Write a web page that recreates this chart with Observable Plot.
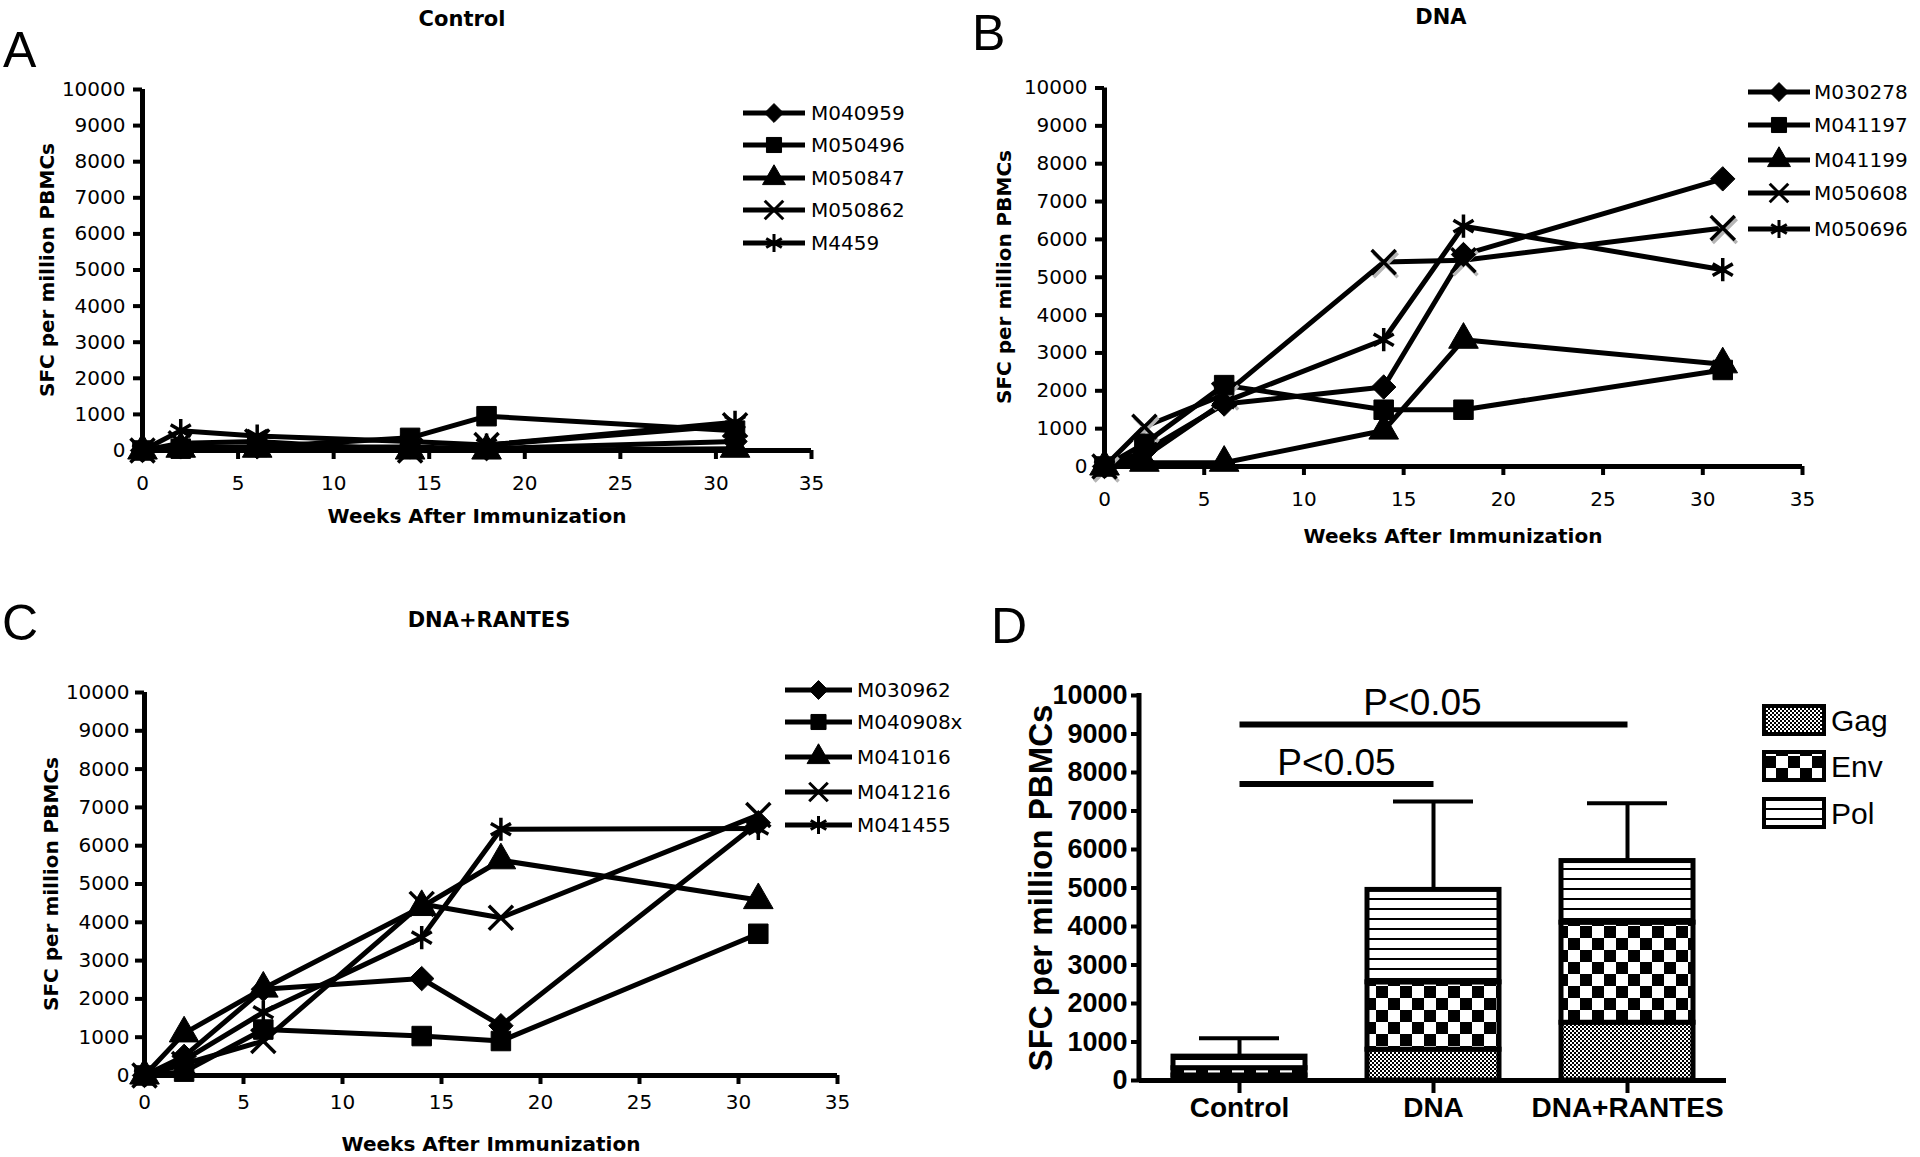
<!DOCTYPE html>
<html>
<head>
<meta charset="utf-8">
<script src="https://cdn.jsdelivr.net/npm/d3@7"></script>
<script src="https://cdn.jsdelivr.net/npm/@observablehq/plot@0.6"></script>
<style>
html, body { margin: 0; padding: 0; background: #fff; }
#fig { position: relative; width: 1920px; height: 1157px; overflow: hidden; background: #fff; }
#fig svg { position: absolute; }
</style>
</head>
<body>
<div id="fig"></div>
<script>
// ---------------- data ----------------
const weeks = [0, 2, 6, 14, 18, 31];
const xTicks = [0, 5, 10, 15, 20, 25, 30, 35];
const yTicks = [0, 1000, 2000, 3000, 4000, 5000, 6000, 7000, 8000, 9000, 10000];
const symbolNames = ["diamond2", "square", "triangle", "times", "asterisk"];

// Panel A: Control
const controlIds = ["M040959", "M050496", "M050847", "M050862", "M4459"];
const controlM040959 = [0, 100, 100, 100, 50, 250];
const controlM050496 = [0, 50, 100, 350, 950, 550];
const controlM050847 = [0, 50, 50, 0, 0, 50];
const controlM050862 = [0, 200, 250, 0, 150, 700];
const controlM4459   = [0, 550, 400, 250, 150, 780];

// Panel B: DNA
const dnaIds = ["M030278", "M041197", "M041199", "M050608", "M050696"];
const dnaM030278 = [0, 400, 1650, 2100, 5600, 7600];
const dnaM041197 = [0, 600, 2150, 1500, 1500, 2550];
const dnaM041199 = [0, 100, 100, 950, 3350, 2700];
const dnaM050608 = [0, 1050, 1900, 5400, 5450, 6300];
const dnaM050696 = [0, 250, 1700, 3350, 6350, 5200];

// Panel C: DNA+RANTES
const rantesIds = ["M030962", "M040908x", "M041016", "M041216", "M041455"];
const rantesM030962  = [0, 500, 2250, 2530, 1300, 6600];
const rantesM040908x = [0, 100, 1200, 1030, 900, 3700];
const rantesM041016  = [0, 1100, 2270, 4400, 5620, 4580];
const rantesM041216  = [0, 300, 900, 4480, 4120, 6800];
const rantesM041455  = [0, 400, 1650, 3600, 6430, 6450];

// Panel D: stacked bars
const dGroups = ["Control", "DNA", "DNA+RANTES"];
const dComponents = ["Gag", "Env", "Pol"];
const dGag = [130, 800, 1500];
const dEnv = [190, 1750, 2600];
const dPol = [300, 2400, 1600];
const dErrorTop = [1100, 7250, 7200];
const dSigFrom = ["Control", "Control"];
const dSigTo = ["DNA", "DNA+RANTES"];
const dSigY = [7700, 9250];
const dSigLabel = ["P<0.05", "P<0.05"];

// ---------------- helpers ----------------
const fig = document.getElementById("fig");

function linePanel(cfg) {
  const {ids, series, left, top, width, height, fx0, fx1, fy0, fy1, shadow, xPad, yPad} = cfg;
  const data = [];
  ids.forEach((id, k) => series[k].forEach((v, i) => data.push({id, week: weeks[i], value: v})));
  const filledIds = ids.slice(0, 3);
  const filled = data.filter(d => filledIds.includes(d.id));
  const stroked = data.filter(d => !filledIds.includes(d.id));
  const marks = [
    Plot.line(data, {x: "week", y: "value", z: "id", stroke: "black", strokeWidth: 5}),
  ];
  if (shadow) {
    marks.push(Plot.dot(data.filter(d => d.id === ids[3]), {x: "week", y: "value", symbol: "id", r: 11, fill: "none", stroke: "#b5b5b5", strokeWidth: 3.5, dx: 2, dy: 3}));
  }
  marks.push(
    Plot.dot(filled, {x: "week", y: "value", symbol: "id", r: 11, fill: "black", stroke: "black", strokeWidth: 1}),
    Plot.dot(stroked, {x: "week", y: "value", symbol: "id", r: 11, fill: "none", stroke: "black", strokeWidth: 3.5}),
    Plot.ruleY([0], {strokeWidth: 5}),
    Plot.ruleX([0], {strokeWidth: 5}),
    Plot.axisX({ticks: xTicks, tickFormat: d => String(d), tickSize: 9, tickPadding: xPad, strokeWidth: 4, label: null, fontSize: 20}),
    Plot.axisY({ticks: yTicks, tickFormat: d => String(d), tickSize: 9, tickPadding: yPad, strokeWidth: 4, label: null, fontSize: 20})
  );
  const svg = Plot.plot({
    width, height,
    marginLeft: fx0 - left, marginRight: left + width - fx1,
    marginTop: fy1 - top, marginBottom: top + height - fy0,
    x: {domain: [0, 35]},
    y: {domain: [0, 10000]},
    symbol: {domain: ids, range: symbolNames},
    style: {background: "transparent", color: "black", fontFamily: "DejaVu Sans, sans-serif", fontSize: "20px", overflow: "visible"},
    marks
  });
  svg.style.left = left + "px";
  svg.style.top = top + "px";
  fig.appendChild(svg);
}

// ---------------- panels A, B, C ----------------
linePanel({ids: controlIds, series: [controlM040959, controlM050496, controlM050847, controlM050862, controlM4459],
  left: 0, top: 60, width: 840, height: 480, fx0: 142, fx1: 811, fy0: 450, fy1: 89, xPad: 16, yPad: 8});
linePanel({ids: dnaIds, series: [dnaM030278, dnaM041197, dnaM041199, dnaM050608, dnaM050696],
  left: 960, top: 50, width: 900, height: 520, fx0: 1104, fx1: 1802, fy0: 466, fy1: 87.5, shadow: true, xPad: 16, yPad: 8});
linePanel({ids: rantesIds, series: [rantesM030962, rantesM040908x, rantesM041016, rantesM041216, rantesM041455],
  left: 0, top: 650, width: 860, height: 480, fx0: 144, fx1: 837, fy0: 1075, fy1: 692, xPad: 10, yPad: 6});

// ---------------- panel D ----------------
const barData = [];
dGroups.forEach((g, i) => {
  barData.push({group: g, component: "Gag", value: dGag[i]});
  barData.push({group: g, component: "Env", value: dEnv[i]});
  barData.push({group: g, component: "Pol", value: dPol[i]});
});
const errData = dGroups.map((g, i) => ({group: g, total: dGag[i] + dEnv[i] + dPol[i], top: dErrorTop[i]}));
const sigData = dSigFrom.map((f, i) => ({from: f, to: dSigTo[i], y: dSigY[i], label: dSigLabel[i]}));

const dLeft = 980, dTop = 590, dW = 940, dH = 567;
const dML = 159, dMR = 194, dMT = 105, dMB = 77;
const dSvg = Plot.plot({
  width: dW, height: dH,
  marginLeft: dML, marginRight: dMR, marginTop: dMT, marginBottom: dMB,
  x: {domain: dGroups, paddingInner: 0.32, paddingOuter: 0.17, align: 0.5},
  y: {domain: [0, 10000]},
  color: {type: "ordinal", domain: dComponents, range: ["url(#pat-gag)", "url(#pat-env)", "url(#pat-pol)"]},
  style: {background: "transparent", color: "black", fontFamily: "Liberation Sans, Arial, sans-serif", fontSize: "28px", overflow: "visible"},
  marks: [
    Plot.ruleX(errData, {x: "group", y1: "total", y2: "top", strokeWidth: 4}),
    Plot.tickY(errData, {x: "group", y: "top", strokeWidth: 4, insetLeft: 26, insetRight: 26}),
    Plot.barY(barData, {x: "group", y: "value", fill: "component", stroke: "black", strokeWidth: 5}),
    Plot.link(sigData, {x1: "from", x2: "to", y1: "y", y2: "y", strokeWidth: 6}),
    Plot.text(sigData.filter((d, i) => i === 0), {x: "from", y: "y", text: "label", dx: 97, dy: -9, lineAnchor: "bottom", fontSize: 37, fontWeight: "normal"}),
    Plot.text(sigData.filter((d, i) => i === 1), {x: "to", y: "y", text: "label", dx: -205, dy: -9, lineAnchor: "bottom", fontSize: 37, fontWeight: "normal"}),
    Plot.ruleY([0], {strokeWidth: 5}),
    Plot.axisX({tickSize: 13, tickPadding: 4, strokeWidth: 4, label: null, fontSize: 28, fontWeight: "bold"}),
    Plot.axisY({ticks: yTicks, tickFormat: d => String(d), tickSize: 8, tickPadding: 4, strokeWidth: 4, label: null, fontSize: 27, fontWeight: "bold"})
  ]
});
dSvg.style.left = dLeft + "px";
dSvg.style.top = dTop + "px";
dSvg.insertAdjacentHTML("afterbegin", `<defs>
<pattern id="pat-gag" width="4" height="4" patternUnits="userSpaceOnUse"><rect width="4" height="4" fill="#fff"/><rect width="2" height="2" fill="#000"/><rect x="2" y="2" width="2" height="2" fill="#000"/></pattern>
<pattern id="pat-env" width="24" height="24" patternUnits="userSpaceOnUse"><rect width="24" height="24" fill="#fff"/><rect width="12" height="12" fill="#000"/><rect x="12" y="12" width="12" height="12" fill="#000"/></pattern>
<pattern id="pat-pol" width="10" height="10" patternUnits="userSpaceOnUse"><rect width="10" height="10" fill="#fff"/><rect y="8" width="10" height="2" fill="#000"/></pattern>
</defs>`);
// y axis line for the band chart
d3.select(dSvg).append("line")
  .attr("x1", dML).attr("x2", dML).attr("y1", dMT - 2).attr("y2", dH - dMB + 2)
  .attr("stroke", "black").attr("stroke-width", 5);
fig.appendChild(dSvg);

// ---------------- overlay: letters, titles, axis labels, legends ----------------
const ov = d3.select(fig).append("svg")
  .attr("width", 1920).attr("height", 1157)
  .style("left", "0px").style("top", "0px").style("pointer-events", "none");

function txt(x, y, s, o = {}) {
  const t = ov.append("text").attr("x", x).attr("y", y).text(s)
    .attr("font-family", o.family || "DejaVu Sans, sans-serif")
    .attr("font-size", o.size || 20)
    .attr("font-weight", o.weight || "normal")
    .attr("text-anchor", o.anchor || "middle")
    .attr("dominant-baseline", o.baseline || "central")
    .attr("fill", "black");
  if (o.rotate) t.attr("transform", `rotate(-90 ${x} ${y})`);
  return t;
}

// panel letters
const LF = "Liberation Sans, Arial, sans-serif";
txt(3, 67, "A", {family: LF, size: 50, anchor: "start", baseline: "alphabetic"});
txt(972, 50, "B", {family: LF, size: 50, anchor: "start", baseline: "alphabetic"});
txt(2, 640, "C", {family: LF, size: 50, anchor: "start", baseline: "alphabetic"});
txt(991, 643, "D", {family: LF, size: 50, anchor: "start", baseline: "alphabetic"});

// titles
txt(462, 19, "Control", {weight: "bold", size: 21});
txt(1441, 17, "DNA", {weight: "bold", size: 21});
txt(489, 620, "DNA+RANTES", {weight: "bold", size: 21});

// axis labels
txt(477, 516, "Weeks After Immunization", {weight: "bold", size: 20});
txt(1453, 536, "Weeks After Immunization", {weight: "bold", size: 20});
txt(491, 1144, "Weeks After Immunization", {weight: "bold", size: 20});
txt(47, 270, "SFC per million PBMCs", {weight: "bold", size: 20, rotate: true});
txt(1004, 277, "SFC per million PBMCs", {weight: "bold", size: 20, rotate: true});
txt(51, 884, "SFC per million PBMCs", {weight: "bold", size: 20, rotate: true});
txt(1040, 888, "SFC per million PBMCs", {family: LF, weight: "bold", size: 33, rotate: true});

// line-chart legends
const symMap = {
  diamond2: d3.symbolDiamond2 || d3.symbolDiamond,
  square: d3.symbolSquare,
  triangle: d3.symbolTriangle,
  times: d3.symbolTimes || d3.symbolCross,
  asterisk: d3.symbolAsterisk || d3.symbolStar
};
function lineLegend(ids, rows, x0, x1, tx) {
  const xm = (x0 + x1) / 2;
  ids.forEach((id, k) => {
    const y = rows[k];
    ov.append("line").attr("x1", x0).attr("x2", x1).attr("y1", y).attr("y2", y)
      .attr("stroke", "black").attr("stroke-width", 5);
    const filled = k < 3;
    ov.append("path")
      .attr("d", d3.symbol(symMap[symbolNames[k]], Math.PI * 8.5 * 8.5)())
      .attr("transform", `translate(${xm},${y})`)
      .attr("fill", filled ? "black" : "none")
      .attr("stroke", "black")
      .attr("stroke-width", filled ? 1 : 3);
    txt(tx, y, id, {anchor: "start", size: 20});
  });
}
lineLegend(controlIds, [113, 145, 178, 210, 243], 743, 805, 811);
lineLegend(dnaIds, [92, 125, 160, 193, 229], 1748, 1810, 1814);
lineLegend(rantesIds, [690, 722, 757, 792, 825], 785, 852, 857);

// bar legend
const dLegRows = [720, 766, 813];
dComponents.forEach((c, k) => {
  ov.append("rect").attr("x", 1764).attr("y", dLegRows[k] - 14).attr("width", 60).attr("height", 28)
    .attr("fill", `url(#pat-${c.toLowerCase()})`).attr("stroke", "black").attr("stroke-width", 4);
  txt(1831, dLegRows[k], c, {family: LF, size: 30, anchor: "start"});
});
</script>
</body>
</html>
